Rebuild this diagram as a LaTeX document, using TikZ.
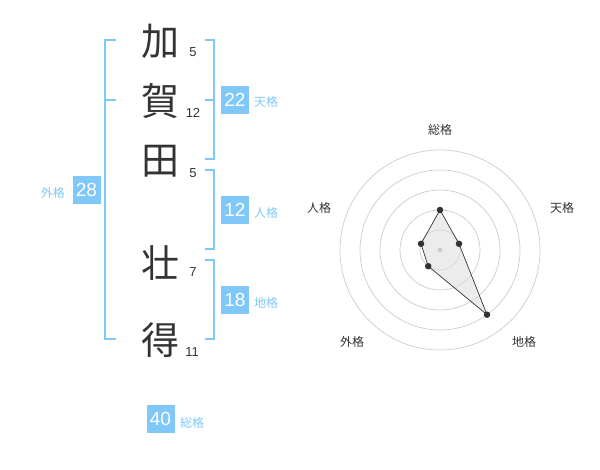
\documentclass[tikz,border=0pt]{standalone}
\usepackage{fontspec}
\setmainfont{Liberation Sans}
\newfontfamily\jp{Noto Sans CJK JP}
\definecolor{brk}{HTML}{80C8F8}
\definecolor{txt}{HTML}{333333}
\definecolor{ring}{HTML}{CCCCCC}
\begin{document}
\begin{tikzpicture}[x=1pt,y=-1pt,
  kanji/.style={font=\jp\fontsize{38}{38}\selectfont, text=txt, inner sep=0},
  strokes/.style={font=\fontsize{13}{13}\selectfont, text=txt, inner sep=0},
  numbox/.style={fill=brk, text=white, minimum size=28pt, inner sep=0, font=\fontsize{19}{19}\selectfont},
  lab/.style={text=brk, font=\jp\fontsize{12}{12}\selectfont, inner sep=0},
  bracket/.style={draw=brk, line width=2pt},
  ringline/.style={draw=ring, line width=0.7pt},
  rlab/.style={text=txt, font=\jp\fontsize{12}{12}\selectfont, inner sep=0},
  dot/.style={circle, fill=txt, inner sep=0, minimum size=6.5pt}]
\useasboundingbox (0,0) rectangle (600,470);
% characters
\node[kanji] (k1) at (160,41) {加};
\node[kanji] (k2) at (160,101) {賀};
\node[kanji] (k3) at (160,161) {田};
\node[kanji] (k4) at (160,263) {壮};
\node[kanji] (k5) at (160,340) {得};
% stroke counts
\node[strokes] (s1) at (193,52) {5};
\node[strokes] (s2) at (193,113) {12};
\node[strokes] (s3) at (193,173) {5};
\node[strokes] (s4) at (193,272) {7};
\node[strokes] (s5) at (192,352) {11};
% brackets
\draw[bracket] (116,40) -- (105,40) -- (105,339) -- (116,339);
\draw[bracket] (105,100) -- (116,100);
\draw[bracket] (205,40) -- (214,40) -- (214,159) -- (205,159);
\draw[bracket] (214,100) -- (205,100);
\draw[bracket] (205,170) -- (214,170) -- (214,249) -- (205,249);
\draw[bracket] (205,260) -- (214,260) -- (214,339) -- (205,339);
% boxes
\node[numbox] (ten) at (235,100) {22};
\node[lab, anchor=west] (tenl) at (254,102) {天格};
\node[numbox] (jin) at (235,210) {12};
\node[lab, anchor=west] (jinl) at (254,213) {人格};
\node[numbox] (chi) at (235,300) {18};
\node[lab, anchor=west] (chil) at (254,303) {地格};
\node[numbox] (gai) at (86.5,190) {28};
\node[lab, anchor=east] (gail) at (65,193) {外格};
\node[numbox] (sou) at (160.5,419) {40};
\node[lab, anchor=west] (soul) at (180,423) {総格};
% radar
\coordinate (c) at (440,250);
\foreach \r in {20,40,60,80,100} \draw[ringline] (c) circle (\r pt);
\coordinate (p1) at (440,210);
\coordinate (p2) at (459.0,243.8);
\coordinate (p3) at (487.0,314.7);
\coordinate (p4) at (428.2,266.2);
\coordinate (p5) at (421.0,243.8);
\filldraw[fill=gray!25, fill opacity=0.6, draw=txt, line width=0.7pt] (p1) -- (p2) -- (p3) -- (p4) -- (p5) -- cycle;
\node[circle, fill=ring, inner sep=0, minimum size=5pt] (cd) at (c) {};
\foreach \i in {1,...,5} \node[dot] (d\i) at (p\i) {};
\node[rlab] (r1) at (440,130) {総格};
\node[rlab] (r2) at (562,208) {天格};
\node[rlab] (r3) at (524,342) {地格};
\node[rlab] (r4) at (352,342) {外格};
\node[rlab] (r5) at (319,208) {人格};
\end{tikzpicture}
\end{document}
